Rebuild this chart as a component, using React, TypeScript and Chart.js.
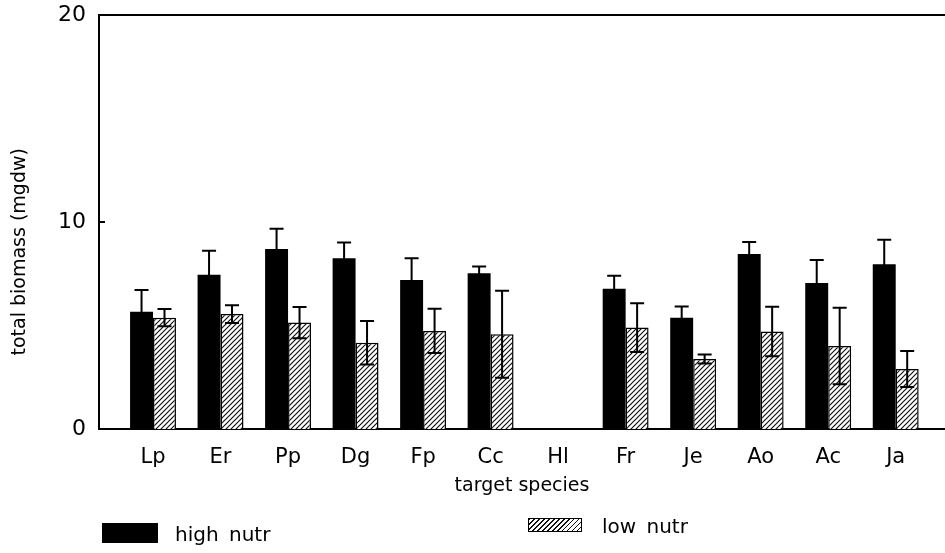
import React, { useEffect, useRef } from 'react';
import { Chart, registerables } from 'chart.js';
Chart.register(...registerables);

const categories = ['Lp', 'Er', 'Pp', 'Dg', 'Fp', 'Cc', 'Hl', 'Fr', 'Je', 'Ao', 'Ac', 'Ja'];
const highNutr = [5.66, 7.45, 8.69, 8.25, 7.2, 7.53, null, 6.77, 5.37, 8.46, 7.05, 7.96];
const highErr = [1.06, 1.16, 0.98, 0.76, 1.05, 0.32, null, 0.63, 0.55, 0.57, 1.12, 1.18];
const lowNutr = [5.38, 5.55, 5.14, 4.17, 4.74, 4.58, null, 4.9, 3.38, 4.71, 4.01, 2.9];
const lowErr = [0.42, 0.43, 0.75, 1.05, 1.07, 2.1, null, 1.18, 0.22, 1.2, 1.85, 0.87];
const yTickValues = [0, 10, 20];
const seriesNames = ['high nutr', 'low nutr'];
const xTitle = 'target species';
const yTitle = 'total biomass (mgdw)';

const FONT = '"DejaVu Sans", sans-serif';

function makeHatch(ctx: CanvasRenderingContext2D) {
  const s = 5;
  const c = document.createElement('canvas');
  c.width = s;
  c.height = s;
  const g = c.getContext('2d')!;
  g.fillStyle = '#fff';
  g.fillRect(0, 0, s, s);
  g.strokeStyle = '#111';
  g.lineWidth = 1.2;
  g.beginPath();
  g.moveTo(0, s);
  g.lineTo(s, 0);
  g.moveTo(-1, 1);
  g.lineTo(1, -1);
  g.moveTo(s - 1, s + 1);
  g.lineTo(s + 1, s - 1);
  g.stroke();
  return ctx.createPattern(c, 'repeat')!;
}

const decor = {
  id: 'decor',
  afterDatasetsDraw(chart: any) {
    const ctx = chart.ctx as CanvasRenderingContext2D;
    const y = chart.scales.y;
    const errs = [highErr, lowErr];
    const { left, right, top, bottom } = chart.chartArea;
    ctx.save();
    ctx.strokeStyle = '#000';
    ctx.lineWidth = 2;
    chart.data.datasets.forEach((ds: any, i: number) => {
      const meta = chart.getDatasetMeta(i);
      meta.data.forEach((el: any, j: number) => {
        const v = ds.data[j].y;
        const e = errs[i][j];
        if (v == null || e == null) return;
        const x = el.x;
        const t = y.getPixelForValue(v + e);
        const b = y.getPixelForValue(v - e);
        ctx.beginPath();
        ctx.moveTo(x, t);
        ctx.lineTo(x, b);
        ctx.moveTo(x - 7, t);
        ctx.lineTo(x + 7, t);
        ctx.moveTo(x - 7, b);
        ctx.lineTo(x + 7, b);
        ctx.stroke();
      });
    });
    ctx.beginPath();
    ctx.moveTo(left, top);
    ctx.lineTo(right, top);
    y.ticks.forEach((t: any) => {
      if (t.value > y.min && t.value < y.max) {
        const p = y.getPixelForValue(t.value);
        ctx.moveTo(left, p);
        ctx.lineTo(left + 6, p);
      }
    });
    ctx.stroke();
    ctx.translate(20, top + (bottom - top) * 0.572);
    ctx.rotate(-Math.PI / 2);
    ctx.font = '19px ' + FONT;
    ctx.fillStyle = '#000';
    ctx.textAlign = 'center';
    ctx.textBaseline = 'middle';
    ctx.fillText(yTitle, 0, 0);
    ctx.restore();
  },
};

export default function App() {
  const ref = useRef<HTMLCanvasElement>(null);
  useEffect(() => {
    document.body.style.margin = '0';
    const canvas = ref.current!;
    const ctx = canvas.getContext('2d')!;
    const hatch = makeHatch(ctx);
    const chart = new Chart(ctx, {
      type: 'bar',
      data: {
        datasets: [
          {
            label: seriesNames[0],
            data: categories.map((_, i) => ({ x: i, y: highNutr[i] })) as any,
            backgroundColor: '#000',
            borderWidth: 0,
          },
          {
            label: seriesNames[1],
            data: categories.map((_, i) => ({ x: i, y: lowNutr[i] })) as any,
            backgroundColor: hatch as any,
            borderColor: '#000',
            borderWidth: 1.5,
          },
        ],
      },
      options: {
        animation: false,
        responsive: false,
        layout: { padding: { top: 15, right: 0, bottom: 56, left: 0 } },
        datasets: { bar: { categoryPercentage: 0.68, barPercentage: 1 } },
        plugins: { legend: { display: false }, tooltip: { enabled: false } },
        scales: {
          x: {
            type: 'linear',
            offset: false,
            min: -0.8,
            max: 11.73,
            grid: { display: false, drawTicks: false, offset: false },
            border: { display: true, color: '#000', width: 2 },
            afterFit: (s: any) => {
              s.height = 68;
            },
            ticks: {
              stepSize: 1,
              includeBounds: false,
              autoSkip: false,
              maxRotation: 0,
              padding: 16,
              color: '#000',
              font: { family: FONT, size: 21 },
              callback: (v: any) => (Number.isInteger(v) && categories[v] ? categories[v] : ''),
            },
            title: {
              display: true,
              text: xTitle,
              color: '#000',
              font: { family: FONT, size: 19 },
              padding: 0,
            },
          },
          y: {
            min: 0,
            max: 20,
            grid: { display: false, drawTicks: false },
            border: { display: true, color: '#000', width: 2 },
            afterFit: (s: any) => {
              s.width = 99;
              s.paddingTop = 0;
              s.paddingBottom = 0;
            },
            afterBuildTicks: (s: any) => {
              s.ticks = yTickValues.map((v) => ({ value: v }));
            },
            ticks: {
              padding: 13,
              color: '#000',
              font: { family: FONT, size: 22 },
            },
          },
        },
      },
      plugins: [decor],
    });
    return () => chart.destroy();
  }, []);

  const textStyle: React.CSSProperties = {
    position: 'absolute',
    fontFamily: FONT,
    fontSize: 20,
    lineHeight: '20px',
    color: '#000',
    whiteSpace: 'pre',
    wordSpacing: 4,
  };

  return (
    <div style={{ position: 'relative', width: 945, height: 553, background: '#fff' }}>
      <canvas ref={ref} width={945} height={553} style={{ width: 945, height: 553, display: 'block' }} />
      <div style={{ position: 'absolute', left: 102, top: 523, width: 56, height: 20, background: '#000' }} />
      <div style={{ ...textStyle, left: 175, top: 524 }}>{seriesNames[0]}</div>
      <div
        style={{
          position: 'absolute',
          left: 528,
          top: 518,
          width: 52,
          height: 12,
          border: '1.5px solid #000',
          background: 'repeating-linear-gradient(135deg, #111 0px, #111 1px, #fff 1px, #fff 3.5px)',
        }}
      />
      <div style={{ ...textStyle, left: 602, top: 516 }}>{seriesNames[1]}</div>
    </div>
  );
}
